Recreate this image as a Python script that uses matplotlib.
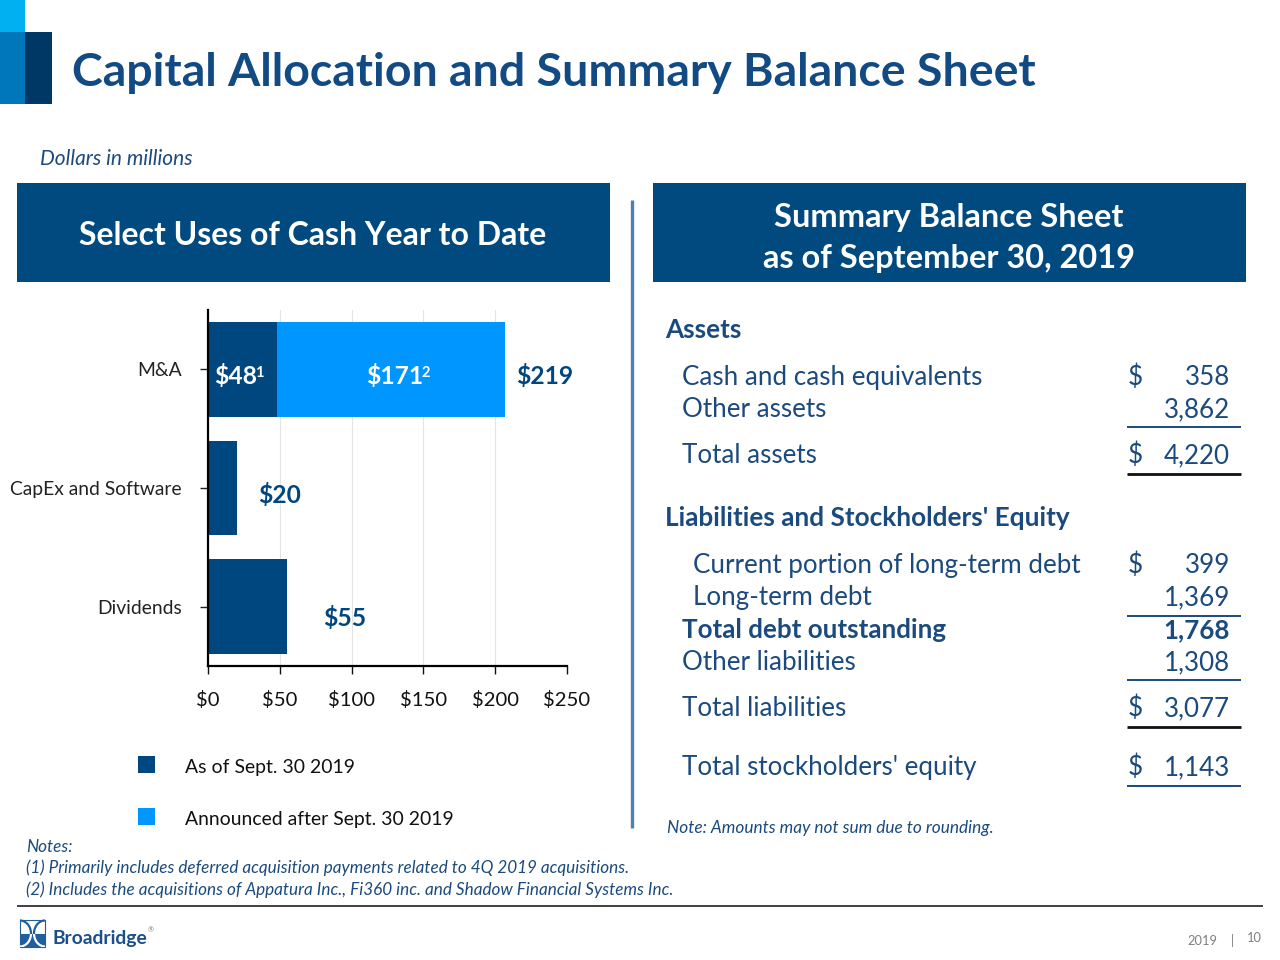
import matplotlib
matplotlib.use("Agg")
import matplotlib.pyplot as plt
from matplotlib.patches import Rectangle, Arc

plt.rcParams["font.family"] = ["Lato", "DejaVu Sans"]
plt.rcParams["text.parse_math"] = False

# ---- data ----
CATEGORIES = ["M&A", "CapEx and Software", "Dividends"]
AS_OF_SEPT30 = [48, 20, 55]          # dark bars
AFTER_SEPT30 = [159, 0, 0]           # light segment as drawn on the slide
BAR_LABELS = ["$48", "$171", "$219", "$20", "$55"]
BAR_FOOTNOTES = ["1", "2", "", "", ""]
X_TICKS = [0, 50, 100, 150, 200, 250]
LEGEND_LABELS = ["As of Sept. 30 2019", "Announced after Sept. 30 2019"]

ASSET_ITEMS = ["Cash and cash equivalents", "Other assets", "Total assets"]
ASSET_VALUES = [358, 3862, 4220]
LIAB_ITEMS = ["Current portion of long-term debt", "Long-term debt",
              "Total debt outstanding", "Other liabilities", "Total liabilities"]
LIAB_VALUES = [399, 1369, 1768, 1308, 3077]
EQUITY_ITEMS = ["Total stockholders' equity"]
EQUITY_VALUES = [1143]

NOTES = ["Notes:",
         "(1) Primarily includes deferred acquisition payments related to 4Q 2019 acquisitions.",
         "(2) Includes the acquisitions of Appatura Inc., Fi360 inc. and Shadow Financial Systems Inc."]

# ---- colours ----
TITLE = "#124A84"
NAVY = "#1B4A7E"
BOX = "#004A80"
DARK = "#00467F"
LIGHT = "#0096FF"
GREY = "#7F7F7F"

fig = plt.figure(figsize=(12.8, 9.6), dpi=100)
bg = fig.add_axes([0, 0, 1, 1])
bg.set_xlim(0, 1280)
bg.set_ylim(960, 0)
bg.axis("off")
renderer = fig.canvas.get_renderer()


def fitted_size(s, width, **kw):
    # font size that makes string s about `width` pixels wide
    t = bg.text(0, 0, s, fontsize=20, **kw)
    w = t.get_window_extent(renderer).width
    t.remove()
    return 20 * width / w


# corner blocks + title
bg.add_patch(Rectangle((0, 0), 25, 32, color="#00B0F0", lw=0))
bg.add_patch(Rectangle((0, 32), 25, 72, color="#0077BB", lw=0))
bg.add_patch(Rectangle((25, 32), 27, 72, color="#003865", lw=0))
s = fitted_size("Capital Allocation and Summary Balance Sheet", 963, weight="bold")
bg.text(72, 86, "Capital Allocation and Summary Balance Sheet", fontsize=s,
        weight="bold", color=TITLE, va="baseline")
s = fitted_size("Dollars in millions", 152, style="italic")
bg.text(40, 165, "Dollars in millions", fontsize=s, style="italic", color=NAVY, va="baseline")

# header boxes
bg.add_patch(Rectangle((17, 183), 593, 99, color=BOX, lw=0))
bg.add_patch(Rectangle((653, 183), 593, 99, color=BOX, lw=0))
s = fitted_size("Select Uses of Cash Year to Date", 469, weight="bold")
bg.text(313, 245, "Select Uses of Cash Year to Date", fontsize=s, weight="bold",
        color="white", ha="center", va="baseline")
s = fitted_size("as of September 30, 2019", 372, weight="bold")
bg.text(949, 227, "Summary Balance Sheet", fontsize=s, weight="bold",
        color="white", ha="center", va="baseline")
bg.text(949, 268, "as of September 30, 2019", fontsize=s, weight="bold",
        color="white", ha="center", va="baseline")

# divider
bg.plot([632, 632], [200, 828], color="#4F7FB8", lw=2.4, solid_capstyle="butt")

# ---- bar chart ----
ax = fig.add_axes([208 / 1280, 1 - 666 / 960, 359 / 1280, 356 / 960])
ypos = list(range(len(CATEGORIES)))
ax.barh(ypos, AS_OF_SEPT30, height=0.8, color=DARK, zorder=2)
ax.barh(ypos, AFTER_SEPT30, left=AS_OF_SEPT30, height=0.8, color=LIGHT, zorder=2)
ax.set_xlim(0, 250)
ax.set_ylim(2.5, -0.5)
ax.set_xticks(X_TICKS)
tick_size = fitted_size("CapEx and Software", 172)
ax.set_xticklabels([f"${v}" for v in X_TICKS], fontsize=tick_size * 1.05)
ax.set_yticks(ypos)
ax.set_yticklabels(CATEGORIES, fontsize=tick_size)
ax.grid(axis="x", color="#E3E3E3", lw=0.8, zorder=0)
ax.set_axisbelow(True)
for side in ("top", "right"):
    ax.spines[side].set_visible(False)
for side in ("left", "bottom"):
    ax.spines[side].set_linewidth(1.6)
ax.tick_params(axis="y", length=6, width=1, pad=13, colors="#222222")
ax.tick_params(axis="x", length=6, width=1, pad=12, colors="#111111")

lab_size = fitted_size("$219", 57, weight="bold")
totals = [a + b for a, b in zip(AS_OF_SEPT30, AFTER_SEPT30)]
label_spots = [
    (0, 0, 6, -7, "left", "white"),
    (AS_OF_SEPT30[0] + AFTER_SEPT30[0] / 2, 0, 4, -7, "center", "white"),
    (totals[0], 0, 11, -7, "left", DARK),
    (totals[1], 1, 21, -7, "left", DARK),
    (totals[2], 2, 36, -11, "left", DARK),
]
for text, note, (x, y, dx, dy, ha, c) in zip(BAR_LABELS, BAR_FOOTNOTES, label_spots):
    t = ax.annotate(text, (x, y), xytext=(dx, dy), textcoords="offset pixels",
                    ha=ha, va="center", fontsize=lab_size, weight="bold", color=c, zorder=3)
    if note:
        ax.annotate(note, (1, 1), xycoords=t, xytext=(-2, -2), textcoords="offset pixels",
                    ha="left", va="top", fontsize=lab_size * 0.6, weight="bold",
                    color=c, zorder=3)

# legend
s = fitted_size(LEGEND_LABELS[1], 269)
for (label, c, top) in zip(LEGEND_LABELS, [DARK, LIGHT], [756, 808]):
    bg.add_patch(Rectangle((138, top), 17, 17, color=c, lw=0))
    bg.text(185, top + 17, label, fontsize=s, color="#111111", va="baseline")

# notes
s = fitted_size(NOTES[1], 602, style="italic")
for line, base in zip(NOTES, [852, 873, 895]):
    bg.text(26, base, line, fontsize=s, style="italic", color=NAVY, va="baseline")

# ---- balance sheet ----
row_size = fitted_size(ASSET_ITEMS[0], 301)
head_size = fitted_size("Liabilities and Stockholders' Equity", 405, weight="bold")
bg.text(665, 338, "Assets", fontsize=head_size, weight="bold", color=NAVY, va="baseline")
bg.text(665, 526, "Liabilities and Stockholders' Equity", fontsize=head_size,
        weight="bold", color=NAVY, va="baseline")

rows = list(zip(ASSET_ITEMS + LIAB_ITEMS + EQUITY_ITEMS,
                ASSET_VALUES + LIAB_VALUES + EQUITY_VALUES))
baselines = [385, 417, 463, 573, 605, 638, 670, 716, 775]
indents = [682, 682, 682, 693, 693, 682, 682, 682, 682]
dollar = [True, False, True, True, False, False, False, True, True]
bold = [False, False, False, False, False, True, False, False, False]
for (label, val), base, xi, d, b in zip(rows, baselines, indents, dollar, bold):
    w = "bold" if b else "normal"
    bg.text(xi, base, label, fontsize=row_size, weight=w, color=NAVY, va="baseline")
    bg.text(1230, base, f"{val:,}", fontsize=row_size, weight=w, color=NAVY,
            ha="right", va="baseline")
    if d:
        bg.text(1128, base, "$", fontsize=row_size, color=NAVY, va="baseline")

for y, c, lw in [(427, NAVY, 1.4), (474, "#111111", 2.0), (616, NAVY, 1.4),
                 (680, NAVY, 1.4), (727, "#111111", 2.0), (786, NAVY, 1.4)]:
    bg.plot([1127, 1241], [y, y], color=c, lw=lw, solid_capstyle="butt")

s = fitted_size("Note: Amounts may not sum due to rounding.", 327, style="italic")
bg.text(667, 833, "Note: Amounts may not sum due to rounding.", fontsize=s,
        style="italic", color=NAVY, va="baseline")

# ---- footer ----
bg.plot([18, 1262], [906, 906], color="#404040", lw=1.4)
# logo mark: blue curves on white top, white curves on blue bottom
icon_blue = "#1F5FA0"
bg.add_patch(Rectangle((20, 920), 25, 27, fill=False, ec=icon_blue, lw=0.8))
for c in (20, 45):
    t1, t2 = (-90, 90) if c == 20 else (90, 270)
    bg.add_patch(Arc((c, 933.5), 22, 26, theta1=t1, theta2=t2, color=icon_blue, lw=1.6))
low = Rectangle((20, 934), 25, 13, color=icon_blue, lw=0)
bg.add_patch(low)
for c in (20, 45):
    t1, t2 = (-90, 90) if c == 20 else (90, 270)
    a = Arc((c, 933.5), 22, 26, theta1=t1, theta2=t2, color="white", lw=1.6)
    bg.add_patch(a)
    a.set_clip_path(low)
s = fitted_size("Broadridge", 95, weight="bold")
bg.text(53, 944, "Broadridge", fontsize=s, weight="bold", color="#1A4F8B", va="baseline")
bg.text(148, 932, "\u00ae", fontsize=5, color=GREY, va="baseline")

s = fitted_size("2019", 30)
bg.text(1187, 945, "2019", fontsize=s, color=GREY, va="baseline")
bg.text(1232, 945, "|", fontsize=s, color=GREY, ha="center", va="baseline")
bg.text(1262, 942, "10", fontsize=s, color=GREY, ha="right", va="baseline")

fig.savefig("out.png", dpi=100)
